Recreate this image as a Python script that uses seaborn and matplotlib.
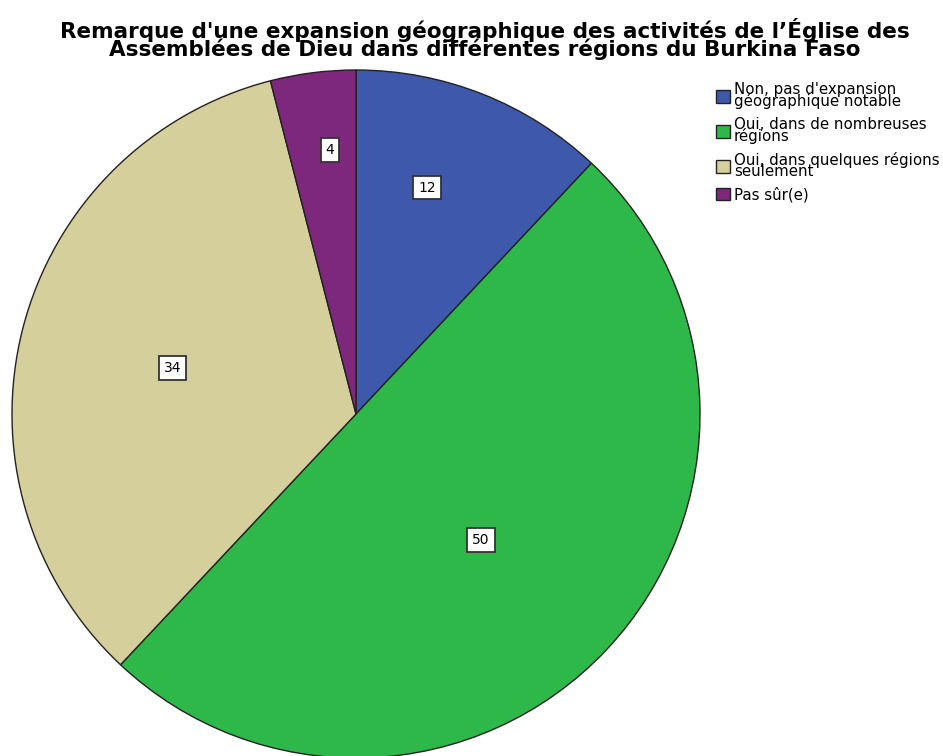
import matplotlib
matplotlib.use("Agg")
import matplotlib.pyplot as plt
import seaborn as sns
import numpy as np

categories = ["Non, pas d'expansion\ngéographique notable",
              "Oui, dans de nombreuses\nrégions",
              "Oui, dans quelques régions\nseulement",
              "Pas sûr(e)"]
values = [12, 50, 34, 4]
colors = ["#3E58AC", "#2EB84A", "#D5CF9C", "#7D277D"]
# where each count label sits: fraction of radius, angle nudge in degrees
label_dist = [0.69, 0.516, 0.549, 0.771]
label_nudge = [4.2, -2.0, 0.3, -1.6]

title = ("Remarque d'une expansion géographique des activités de l’Église des\n"
         "Assemblées de Dieu dans différentes régions du Burkina Faso")

sns.set_style("white")
plt.rcParams['font.family'] = ['DejaVu Sans']
plt.rcParams['text.color'] = 'black'

fig = plt.figure(figsize=(9.43, 7.56), dpi=100)
ax = fig.add_axes([12 / 943, 1 - 758 / 756, 688 / 943, 688 / 756])

wedges, _ = ax.pie(values, colors=sns.color_palette(colors), startangle=90,
                   counterclock=False, radius=1,
                   wedgeprops=dict(edgecolor="#222222", linewidth=1))
ax.set_xlim(-1, 1)
ax.set_ylim(-1, 1)
ax.set_aspect("auto")
ax.axis("off")

for w, v, d, n in zip(wedges, values, label_dist, label_nudge):
    ang = np.deg2rad((w.theta1 + w.theta2) / 2 + n)
    ax.text(d * np.cos(ang), d * np.sin(ang), str(v), ha="center", va="center",
            fontsize=10,
            bbox=dict(boxstyle="square,pad=0.35", facecolor="white",
                      edgecolor="#333333", linewidth=1.3))

fig.text(485 / 943, 1 - 39 / 756, title, ha="center", va="center",
         fontsize=15.5, fontweight="bold", linespacing=0.84)

leg = fig.legend(wedges, categories, loc="upper left",
                 bbox_to_anchor=(716 / 943, 1 - 82 / 756), frameon=False,
                 fontsize=10.8, handlelength=0.9, handleheight=0.9,
                 handletextpad=0.3, labelspacing=0.5, borderaxespad=0,
                 borderpad=0)
for t in leg.get_texts():
    t.set_linespacing(0.72)

fig.savefig("out.png", dpi=100)
